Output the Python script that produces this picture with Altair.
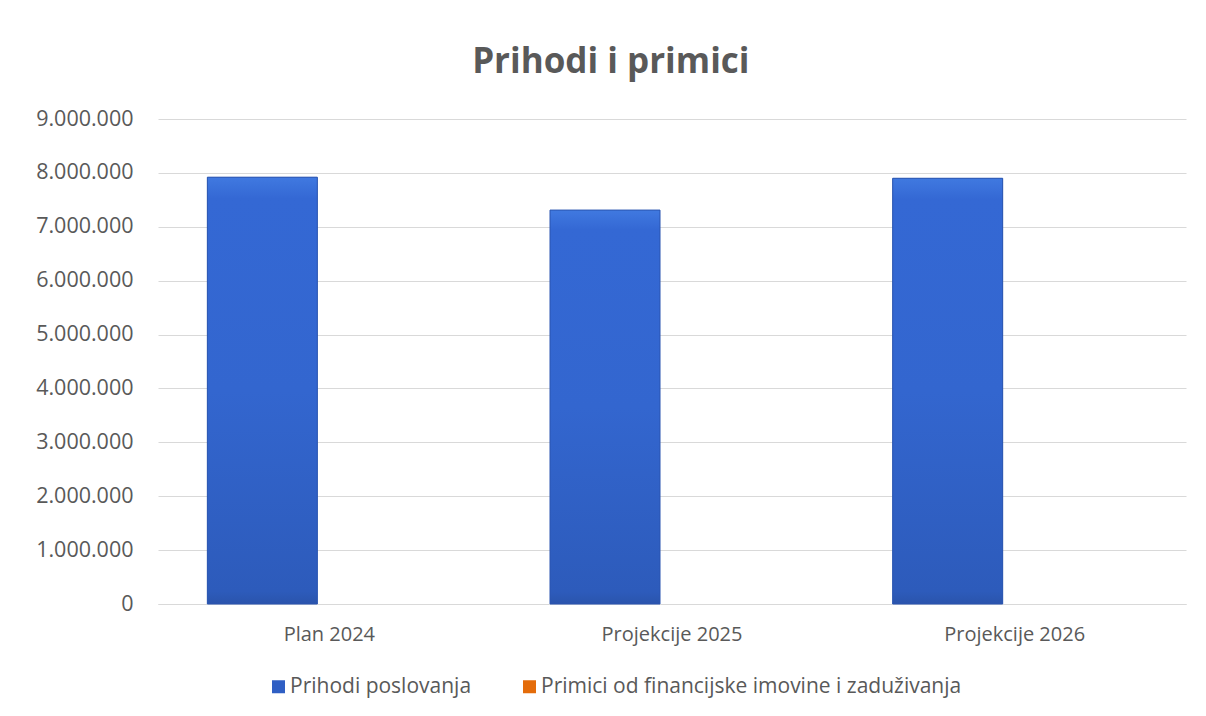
import altair as alt
import pandas as pd

categories = ["Plan 2024", "Projekcije 2025", "Projekcije 2026"]
series = ["Prihodi poslovanja", "Primici od financijske imovine i zaduživanja"]
prihodi = [7920000, 7310000, 7900000]
primici = [0, 0, 0]
y_ticks = [0, 1000000, 2000000, 3000000, 4000000, 5000000, 6000000, 7000000, 8000000, 9000000]

rows = []
for c, a, b in zip(categories, prihodi, primici):
    rows.append({"kategorija": c, "serija": series[0], "vrijednost": a})
    rows.append({"kategorija": c, "serija": series[1], "vrijednost": b})
df = pd.DataFrame(rows)

FONT = "Open Sans"
TXT = "#595959"
GRID = "#d9d9d9"

x = alt.X(
    "kategorija:N",
    sort=categories,
    scale=alt.Scale(paddingInner=0.288, paddingOuter=0.144),
    axis=alt.Axis(
        title=None, labelAngle=0, labelFontSize=20, labelColor=TXT, labelFont=FONT,
        labelPadding=20, ticks=False, domainColor=GRID, domainWidth=1,
    ),
)
xo = alt.XOffset("serija:N", sort=series, scale=alt.Scale(paddingInner=0.179, paddingOuter=0))
y = alt.Y(
    "vrijednost:Q",
    scale=alt.Scale(domain=[0, 9000000], nice=False),
    axis=alt.Axis(
        title=None, values=y_ticks,
        labelExpr="replace(replace(format(datum.value, ','), ',', '.'), ',', '.')",
        grid=True, gridColor=GRID, gridWidth=1, domain=False, ticks=False,
        labelPadding=25, labelFontSize=21.5, labelColor=TXT, labelFont=FONT,
    ),
)

base = alt.Chart(df).encode(x=x, xOffset=xo, y=y)

bars = base.mark_bar().encode(
    color=alt.Color(
        "serija:N",
        sort=series,
        scale=alt.Scale(domain=series, range=["#2f5fc4", "#e46c0a"]),
        legend=alt.Legend(
            title=None, orient="none", legendX=110, legendY=557, direction="horizontal",
            symbolType="square", symbolSize=169, symbolStrokeWidth=0,
            labelFontSize=21, labelColor=TXT, labelFont=FONT, labelLimit=0,
            columnPadding=47, labelOffset=1,
        ),
    )
)

grad = alt.Gradient(
    gradient="linear",
    stops=[
        alt.GradientStop(color="#4079e0", offset=0),
        alt.GradientStop(color="#3468d4", offset=0.05),
        alt.GradientStop(color="#3366cf", offset=0.5),
        alt.GradientStop(color="#2d5bbb", offset=0.97),
        alt.GradientStop(color="#2a54ac", offset=1),
    ],
    x1=0, x2=0, y1=0, y2=1,
)

overlay = base.transform_filter(
    alt.datum.serija == series[0]
).mark_bar(color=grad, stroke="#2a55b0", strokeWidth=1)

chart = alt.layer(bars, overlay).properties(
    width=1028,
    height=485,
    autosize="none",
    padding={"left": 150, "top": 111, "right": 12, "bottom": 104},
    background="white",
    title=alt.TitleParams(
        "Prihodi i primici", fontSize=35, fontWeight="bold", color=TXT, font=FONT,
        anchor="middle", frame="bounds", offset=28,
    ),
).configure(font=FONT).configure_view(stroke=None)

chart.save("out.html", embed_options={"renderer": "svg", "actions": False})
